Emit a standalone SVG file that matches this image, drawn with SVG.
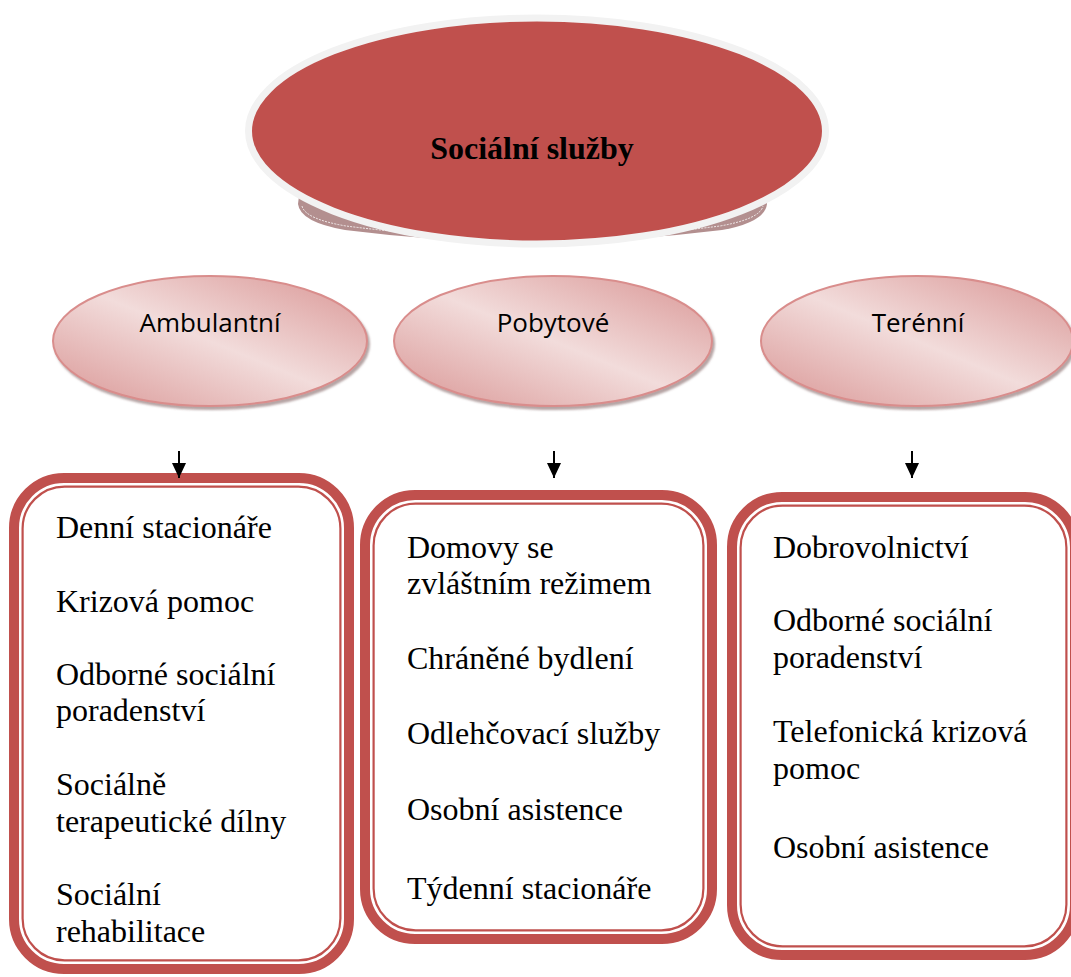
<svg xmlns="http://www.w3.org/2000/svg" width="1071" height="977" viewBox="0 0 1071 977">
  <defs>
    <linearGradient id="pinkGrad" x1="1" y1="0" x2="0" y2="1">
      <stop offset="0" stop-color="#d99594"/>
      <stop offset="0.5" stop-color="#f2dcdb"/>
      <stop offset="1" stop-color="#d99594"/>
    </linearGradient>
    <filter id="shadow" x="-10%" y="-10%" width="125%" height="130%">
      <feDropShadow dx="2" dy="3" stdDeviation="1.2" flood-color="#7a5a5a" flood-opacity="0.55"/>
    </filter>
    <marker id="arrow" viewBox="0 0 15 14" refX="15" refY="7" markerWidth="15" markerHeight="14" markerUnits="userSpaceOnUse" orient="auto">
      <path d="M0,0 L15,7 L0,14 Z" fill="#000"/>
    </marker>
  </defs>
  <style>
    .sub { fill: url(#pinkGrad); stroke: #d98d8c; stroke-width: 2; filter: url(#shadow); }
    .subtxt { font-family: "Open Sans", "Noto Sans", sans-serif; font-size: 26px; fill: #000; text-anchor: middle; }
    .outer { fill: #fff; stroke: #c0504d; stroke-width: 10; }
    .inner { fill: none; stroke: #c0504d; stroke-width: 2.2; }
    .item { font-family: "Liberation Serif", "Times New Roman", serif; font-size: 32px; fill: #000; }
    .conn { stroke: #000; stroke-width: 2; fill: none; }
  </style>

  <g id="root-node">
    <path d="M300,188 L298,204 Q300,222 345,230 Q440,242 533,242 Q626,242 722,230 Q765,222 767,204 L765,188 Z" fill="#b38f8f"/>
    <path d="M302,206 Q305,219 346,226 Q440,238 533,238 Q626,238 720,226 Q760,219 763,206" fill="none" stroke="#fff" stroke-width="0.8" stroke-dasharray="2 1.2"/>
    <ellipse cx="537" cy="131" rx="288.5" ry="113" fill="#c0504d" stroke="#f2f2f2" stroke-width="7"/>
    <text x="532" y="159" font-family="'Liberation Serif', 'Times New Roman', serif" font-size="32" font-weight="bold" text-anchor="middle" fill="#000">Sociální služby</text>
  </g>

  <g id="ambulantni">
    <ellipse class="sub" cx="210" cy="341" rx="157" ry="65"/>
    <text class="subtxt" x="210" y="332">Ambulantní</text>
  </g>
  <g id="pobytove">
    <ellipse class="sub" cx="553" cy="341" rx="159" ry="65"/>
    <text class="subtxt" x="553" y="332">Pobytové</text>
  </g>
  <g id="terenni">
    <ellipse class="sub" cx="917" cy="341" rx="156" ry="65"/>
    <text class="subtxt" x="918" y="332">Terénní</text>
  </g>

  <g id="box-ambulantni">
    <rect class="outer" x="14" y="478" width="335" height="491" rx="50"/>
    <rect class="inner" x="22.6" y="486.6" width="317.8" height="473.8" rx="42"/>
    <text class="item" x="56" y="538">Denní stacionáře</text>
    <text class="item" x="56" y="612">Krizová pomoc</text>
    <text class="item" x="56" y="685">Odborné sociální</text>
    <text class="item" x="56" y="721">poradenství</text>
    <text class="item" x="56" y="795">Sociálně</text>
    <text class="item" x="56" y="832">terapeutické dílny</text>
    <text class="item" x="56" y="905">Sociální</text>
    <text class="item" x="56" y="942">rehabilitace</text>
  </g>

  <g id="box-pobytove">
    <rect class="outer" x="365" y="495" width="347" height="444" rx="50"/>
    <rect class="inner" x="373.6" y="503.6" width="329.8" height="426.8" rx="42"/>
    <text class="item" x="407" y="558">Domovy se</text>
    <text class="item" x="407" y="594">zvláštním režimem</text>
    <text class="item" x="407" y="669">Chráněné bydlení</text>
    <text class="item" x="407" y="744">Odlehčovací služby</text>
    <text class="item" x="407" y="820">Osobní asistence</text>
    <text class="item" x="407" y="899">Týdenní stacionáře</text>
  </g>

  <g id="box-terenni">
    <rect class="outer" x="732" y="497" width="343" height="458" rx="50"/>
    <rect class="inner" x="740.6" y="505.6" width="325.8" height="440.8" rx="42"/>
    <text class="item" x="773" y="558">Dobrovolnictví</text>
    <text class="item" x="773" y="631">Odborné sociální</text>
    <text class="item" x="773" y="668">poradenství</text>
    <text class="item" x="773" y="742">Telefonická krizová</text>
    <text class="item" x="773" y="779">pomoc</text>
    <text class="item" x="773" y="858">Osobní asistence</text>
  </g>

  <g id="connectors">
    <line class="conn" x1="179" y1="451" x2="179" y2="478" marker-end="url(#arrow)"/>
    <line class="conn" x1="554" y1="451" x2="554" y2="478" marker-end="url(#arrow)"/>
    <line class="conn" x1="912" y1="451" x2="912" y2="478" marker-end="url(#arrow)"/>
  </g>
</svg>
